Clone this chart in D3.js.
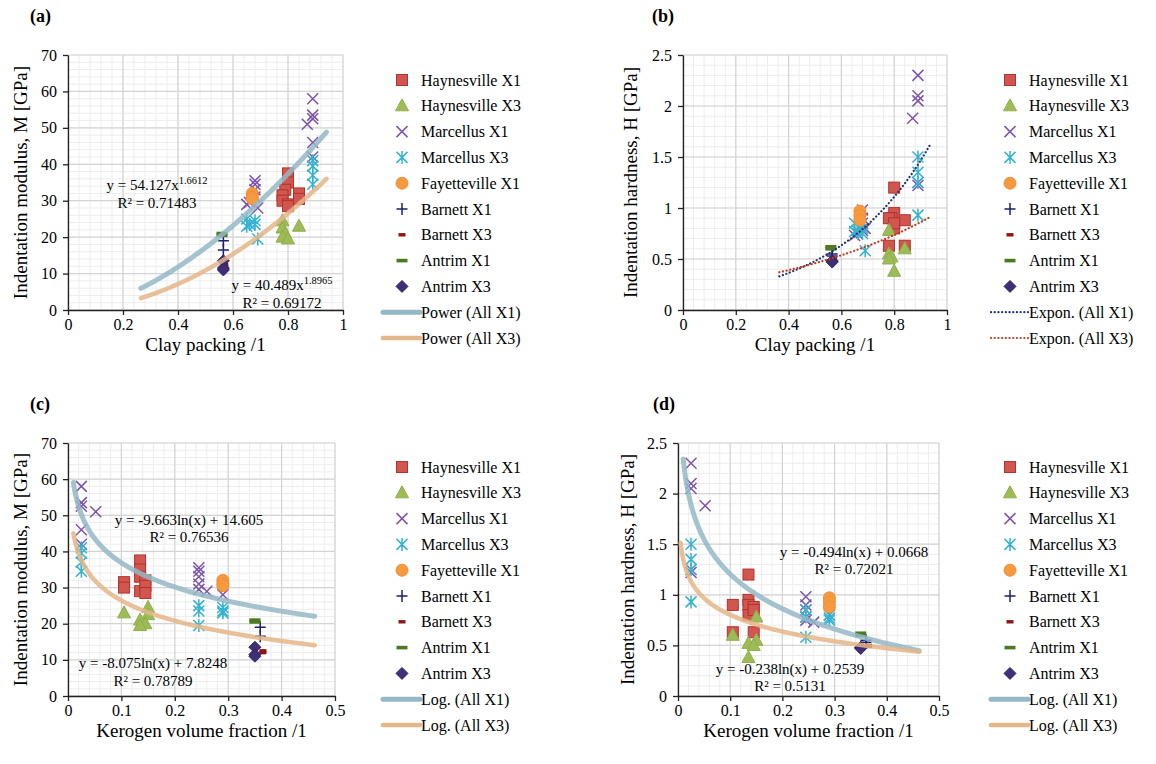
<!DOCTYPE html>
<html>
<head>
<meta charset="utf-8">
<script src="https://cdn.jsdelivr.net/npm/d3@7"></script>
<style>
    body { margin: 0; background: #fff; }
</style>
</head>
<body>
<svg id="chart" width="1156" height="764"></svg>
<script>
// each sample: [clay packing, kerogen volume fraction, M (GPa), H (GPa)]
const haynesvilleX1 = [
    [0.80, 0.135, 37.5, 1.20], [0.80, 0.135, 35.0, 0.95], [0.79, 0.135, 33.0, 0.90],
    [0.78, 0.105, 31.5, 0.90], [0.78, 0.105, 30.0, 0.63], [0.80, 0.135, 29.0, 0.80],
    [0.84, 0.145, 32.0, 0.88], [0.84, 0.145, 30.5, 0.63], [0.80, 0.145, 28.5, 0.85]
];
const haynesvilleX3 = [
    [0.84, 0.105, 23.0, 0.60], [0.78, 0.150, 24.5, 0.78], [0.78, 0.150, 22.5, 0.55],
    [0.79, 0.135, 21.0, 0.52], [0.78, 0.145, 20.0, 0.50], [0.80, 0.135, 19.5, 0.38]
];
const marcellusX1 = [
    [0.89, 0.025, 58.0, 2.30], [0.89, 0.025, 53.5, 2.10], [0.89, 0.025, 52.5, 2.05],
    [0.87, 0.052, 51.0, 1.88], [0.89, 0.025, 46.0, 1.25], [0.89, 0.025, 42.0, 1.22],
    [0.68, 0.245, 35.5, 0.98], [0.68, 0.245, 34.5, 0.90], [0.68, 0.245, 33.0, 0.85],
    [0.68, 0.245, 31.0, 0.78], [0.66, 0.245, 29.5, 0.75], [0.65, 0.260, 29.0, 0.73],
    [0.69, 0.290, 28.0, 0.80]
];
const marcellusX3 = [
    [0.89, 0.025, 41.0, 1.50], [0.89, 0.025, 39.5, 1.35], [0.89, 0.025, 37.0, 1.25],
    [0.89, 0.025, 34.5, 0.93], [0.65, 0.245, 25.0, 0.85], [0.66, 0.245, 23.5, 0.78],
    [0.68, 0.290, 24.5, 0.80], [0.68, 0.290, 23.5, 0.75], [0.65, 0.290, 23.0, 0.77],
    [0.69, 0.245, 19.5, 0.58]
];
const fayettevilleX1 = [[0.67, 0.29, 32.0, 0.97], [0.67, 0.29, 31.0, 0.93], [0.67, 0.29, 30.5, 0.88]];
const barnettX1 = [[0.565, 0.36, 19.0, 0.55], [0.565, 0.36, 16.5, 0.53]];
const barnettX3 = [[0.57, 0.365, 12.5, 0.50], [0.57, 0.365, 12.0, 0.49]];
const antrimX1 = [[0.56, 0.35, 21.0, 0.62], [0.56, 0.35, 20.5, 0.60]];
const antrimX3 = [[0.565, 0.35, 13.5, 0.48], [0.565, 0.35, 11.5, 0.48], [0.565, 0.35, 11.0, 0.47]];

const seriesNames = ["Haynesville X1", "Haynesville X3", "Marcellus X1", "Marcellus X3",
    "Fayetteville X1", "Barnett X1", "Barnett X3", "Antrim X1", "Antrim X3"];
const seriesData = [haynesvilleX1, haynesvilleX3, marcellusX1, marcellusX3,
    fayettevilleX1, barnettX1, barnettX3, antrimX1, antrimX3];

// trend line parameters as printed / fitted
const powerFits = [[54.127, 1.6612], [40.489, 1.8965]];   // y = a x^b
const exponFits = [[0.119, 2.79], [0.208, 1.579]];        // y = a e^(bx)
const logFitsM = [[-9.663, 14.605], [-8.075, 7.8248]];    // y = a ln(x) + b
const logFitsH = [[-0.494, 0.0668], [-0.238, 0.2539]];
const powerRange = [[0.265, 0.94], [0.265, 0.94]];
const exponRange = [[0.365, 0.935], [0.365, 0.935]];
const logRangeM = [[0.01, 0.462], [0.01, 0.462]];
const logRangeH = [[0.01, 0.462], [0.005, 0.462]];

const eqLabelsA = [["y = 54.127x", "1.6612", "R² = 0.71483"], ["y = 40.489x", "1.8965", "R² = 0.69172"]];
const eqLabelsC = [["y = -9.663ln(x) + 14.605", "", "R² = 0.76536"], ["y = -8.075ln(x) + 7.8248", "", "R² = 0.78789"]];
const eqLabelsD = [["y = -0.494ln(x) + 0.0668", "", "R² = 0.72021"], ["y = -0.238ln(x) + 0.2539", "", "R² = 0.5131"]];

const FONT = '"Liberation Serif", "Times New Roman", Tinos, "DejaVu Serif", serif';

const styles = [
    { type: "square", fill: "#d0564f", stroke: "#b3332d" },
    { type: "triangle", fill: "#9dbc56", stroke: "#8fae4a" },
    { type: "x", stroke: "#7d55a8" },
    { type: "star", stroke: "#33b3cf" },
    { type: "circle", fill: "#f79a3e", stroke: "#f0913a" },
    { type: "plus", stroke: "#1f1f6a" },
    { type: "dashS", fill: "#8e1212" },
    { type: "dashL", fill: "#4d7a20" },
    { type: "diamond", fill: "#3f3075", stroke: "#34276a" }
];

const svg = d3.select("#chart");

function drawMarker(g, type, st, x, y) {
    if (type === "square") {
        g.append("rect").attr("x", x - 5.5).attr("y", y - 5.5).attr("width", 11).attr("height", 11)
            .attr("fill", st.fill).attr("stroke", st.stroke).attr("stroke-width", 1);
    } else if (type === "triangle") {
        g.append("path").attr("d", `M${x},${y - 7}L${x + 6.5},${y + 5}L${x - 6.5},${y + 5}Z`)
            .attr("fill", st.fill).attr("stroke", st.stroke).attr("stroke-width", 1);
    } else if (type === "circle") {
        g.append("circle").attr("cx", x).attr("cy", y).attr("r", 6)
            .attr("fill", st.fill).attr("stroke", st.stroke);
    } else if (type === "diamond") {
        g.append("path").attr("d", `M${x},${y - 6}L${x + 6},${y}L${x},${y + 6}L${x - 6},${y}Z`)
            .attr("fill", st.fill).attr("stroke", st.stroke);
    } else if (type === "x" || type === "star" || type === "plus") {
        const s = 5.5;
        let d = "";
        if (type !== "plus") d += `M${x - s},${y - s}L${x + s},${y + s}M${x - s},${y + s}L${x + s},${y - s}`;
        if (type === "star") d += `M${x},${y - s - 1}L${x},${y + s + 1}`;
        if (type === "plus") d += `M${x - 5.5},${y}L${x + 5.5},${y}M${x},${y - 6}L${x},${y + 6}`;
        g.append("path").attr("d", d).attr("fill", "none").attr("stroke", st.stroke).attr("stroke-width", 1.5);
    } else if (type === "dashS") {
        g.append("rect").attr("x", x - 3.5).attr("y", y - 1.7).attr("width", 7).attr("height", 3.4).attr("fill", st.fill);
    } else if (type === "dashL") {
        g.append("rect").attr("x", x - 5.5).attr("y", y - 1.8).attr("width", 11).attr("height", 3.6).attr("fill", st.fill);
    }
}

const fmt = d => String(+d.toFixed(2));

const panels = [
    { label: "(a)", lx: 30, ly: 22, left: 68, right: 343, top: 55, bottom: 310, xMax: 1, xMajor: 0.2, xMinor: 0.04,
      yMax: 70, yMajor: 10, yMinor: 2, xi: 0, yi: 2, xTitle: "Clay packing /1", yTitle: "Indentation modulus, M [GPa]",
      titleX: 27, legX: 402, legY: 80, fit: "power", eq: eqLabelsA, eqPos: [[157, 190, 157, 208], [282, 290, 282, 308]] },
    { label: "(b)", lx: 652, ly: 22, left: 683, right: 947, top: 55, bottom: 310, xMax: 1, xMajor: 0.2, xMinor: 0.04,
      yMax: 2.5, yMajor: 0.5, yMinor: 0.1, xi: 0, yi: 3, xTitle: "Clay packing /1", yTitle: "Indentation hardness, H [GPa]",
      titleX: 637, legX: 1010, legY: 80, fit: "expon", eq: null },
    { label: "(c)", lx: 30, ly: 410, left: 68, right: 335, top: 443, bottom: 696, xMax: 0.5, xMajor: 0.1, xMinor: 0.02,
      yMax: 70, yMajor: 10, yMinor: 2, xi: 1, yi: 2, xTitle: "Kerogen volume fraction /1", yTitle: "Indentation modulus, M [GPa]",
      titleX: 27, legX: 402, legY: 467, fit: "logM", eq: eqLabelsC, eqPos: [[189, 525, 189, 542], [153, 668, 153, 686]] },
    { label: "(d)", lx: 653, ly: 410, left: 678, right: 939, top: 443, bottom: 696, xMax: 0.5, xMajor: 0.1, xMinor: 0.02,
      yMax: 2.5, yMajor: 0.5, yMinor: 0.1, xi: 1, yi: 3, xTitle: "Kerogen volume fraction /1", yTitle: "Indentation hardness, H [GPa]",
      titleX: 634, legX: 1010, legY: 467, fit: "logH", eq: eqLabelsD, eqPos: [[854, 557, 854, 574], [790, 674, 790, 691]] }
];

const trendStyles = [
    { stroke: "#94b9c6", width: 5, dash: null },
    { stroke: "#e4b68a", width: 4.5, dash: null }
];
const dotStyles = [
    { stroke: "#1f3575", width: 2.2, dash: "0.1,3.6" },
    { stroke: "#c43a22", width: 2.2, dash: "0.1,3.6" }
];

function drawPanel(p) {
    const x = d3.scaleLinear().domain([0, p.xMax]).range([p.left, p.right]);
    const y = d3.scaleLinear().domain([0, p.yMax]).range([p.bottom, p.top]);
    const g = svg.append("g");

    // minor grid
    const eps = 1e-9;
    g.selectAll(".minx").data(d3.range(0, p.xMax + eps, p.xMinor)).enter().append("line")
        .attr("x1", d => x(d)).attr("x2", d => x(d)).attr("y1", p.top).attr("y2", p.bottom)
        .attr("stroke", "#ededed").attr("stroke-width", 1);
    g.selectAll(".miny").data(d3.range(0, p.yMax + eps, p.yMinor)).enter().append("line")
        .attr("x1", p.left).attr("x2", p.right).attr("y1", d => y(d)).attr("y2", d => y(d))
        .attr("stroke", "#ededed").attr("stroke-width", 1);
    // major grid
    const xTicks = d3.range(0, p.xMax + eps, p.xMajor);
    const yTicks = d3.range(0, p.yMax + eps, p.yMajor);
    g.selectAll(".majx").data(xTicks).enter().append("line")
        .attr("x1", d => x(d)).attr("x2", d => x(d)).attr("y1", p.top).attr("y2", p.bottom)
        .attr("stroke", "#d4d4d4").attr("stroke-width", 1.2);
    g.selectAll(".majy").data(yTicks).enter().append("line")
        .attr("x1", p.left).attr("x2", p.right).attr("y1", d => y(d)).attr("y2", d => y(d))
        .attr("stroke", "#d4d4d4").attr("stroke-width", 1.2);

    // axes
    const xAxis = g.append("g").attr("transform", `translate(0,${p.bottom})`)
        .call(d3.axisBottom(x).tickValues(xTicks).tickFormat(fmt).tickSize(5).tickSizeOuter(0));
    const yAxis = g.append("g").attr("transform", `translate(${p.left},0)`)
        .call(d3.axisLeft(y).tickValues(yTicks).tickFormat(fmt).tickSize(5).tickSizeOuter(0));
    [xAxis, yAxis].forEach(a => {
        a.attr("font-family", null).attr("font-size", null);
        a.select(".domain").attr("stroke", "#222").attr("stroke-width", 1.3);
        a.selectAll(".tick line").attr("stroke", "#222").attr("stroke-width", 1.3);
        a.selectAll("text").attr("font-size", 16).attr("fill", "#111");
    });
    xAxis.selectAll("text").attr("dy", "0.71em").attr("y", 9);
    yAxis.selectAll("text").attr("x", -11);

    // markers
    const mg = g.append("g");
    seriesData.forEach((data, i) => {
        data.forEach(d => drawMarker(mg, styles[i].type, styles[i], x(d[p.xi]), y(d[p.yi])));
    });

    // trend lines
    const line = d3.line().x(d => x(d[0])).y(d => y(d[1])).curve(d3.curveMonotoneX);
    let fits, ranges, fn, tst;
    if (p.fit === "power") { fits = powerFits; ranges = powerRange; fn = (f, v) => f[0] * Math.pow(v, f[1]); tst = trendStyles; }
    if (p.fit === "expon") { fits = exponFits; ranges = exponRange; fn = (f, v) => f[0] * Math.exp(f[1] * v); tst = dotStyles; }
    if (p.fit === "logM") { fits = logFitsM; ranges = logRangeM; fn = (f, v) => f[0] * Math.log(v) + f[1]; tst = trendStyles; }
    if (p.fit === "logH") { fits = logFitsH; ranges = logRangeH; fn = (f, v) => f[0] * Math.log(v) + f[1]; tst = trendStyles; }
    fits.forEach((f, i) => {
        const r = ranges[i];
        const xs = d3.range(120).map(k => r[0] * Math.pow(r[1] / r[0], k / 119));
        const pts = xs.map(v => [v, fn(f, v)]);
        g.append("path").attr("d", line(pts)).attr("fill", "none")
            .attr("stroke", tst[i].stroke).attr("stroke-width", tst[i].width)
            .attr("stroke-linecap", "round").attr("stroke-dasharray", tst[i].dash)
            .attr("opacity", tst[i].dash ? 1 : 0.85);
    });

    // equation labels
    if (p.eq) {
        p.eq.forEach((e, i) => {
            const pos = p.eqPos[i];
            const t = g.append("text").attr("x", pos[0]).attr("y", pos[1]).attr("text-anchor", "middle").attr("font-size", 15);
            t.append("tspan").text(e[0]);
            if (e[1]) t.append("tspan").attr("dy", -6).attr("font-size", 10.5).text(e[1]);
            g.append("text").attr("x", pos[2]).attr("y", pos[3]).attr("text-anchor", "middle").attr("font-size", 15).text(e[2]);
        });
    }

    // titles
    svg.append("text").attr("x", p.lx).attr("y", p.ly).attr("font-size", 18).attr("font-weight", "bold").text(p.label);
    svg.append("text").attr("x", (p.left + p.right) / 2).attr("y", p.bottom + 41).attr("text-anchor", "middle")
        .attr("font-size", 19).text(p.xTitle);
    svg.append("text").attr("transform", `translate(${p.titleX},${(p.top + p.bottom) / 2}) rotate(-90)`)
        .attr("text-anchor", "middle").attr("font-size", 19).text(p.yTitle);

    // legend
    const lg = svg.append("g");
    const step = 25.8;
    seriesNames.forEach((name, i) => {
        const ly = p.legY + i * step;
        drawMarker(lg, styles[i].type, styles[i], p.legX, ly);
        lg.append("text").attr("x", p.legX + 19).attr("y", ly + 5.5).attr("font-size", 16).text(name);
    });
    const fitName = p.fit === "power" ? "Power" : (p.fit === "expon" ? "Expon." : "Log.");
    ["All X1", "All X3"].forEach((s, i) => {
        const ly = p.legY + (9 + i) * step;
        lg.append("line").attr("x1", p.legX - 19).attr("x2", p.legX + 18).attr("y1", ly).attr("y2", ly)
            .attr("stroke", tst[i].stroke).attr("stroke-width", tst[i].width)
            .attr("stroke-linecap", "round").attr("stroke-dasharray", tst[i].dash);
        lg.append("text").attr("x", p.legX + 19).attr("y", ly + 5.5).attr("font-size", 16).text(`${fitName} (${s})`);
    });
}

panels.forEach(drawPanel);
svg.selectAll("text").style("font-family", FONT).style("fill", "#000");
</script>
</body>
</html>
